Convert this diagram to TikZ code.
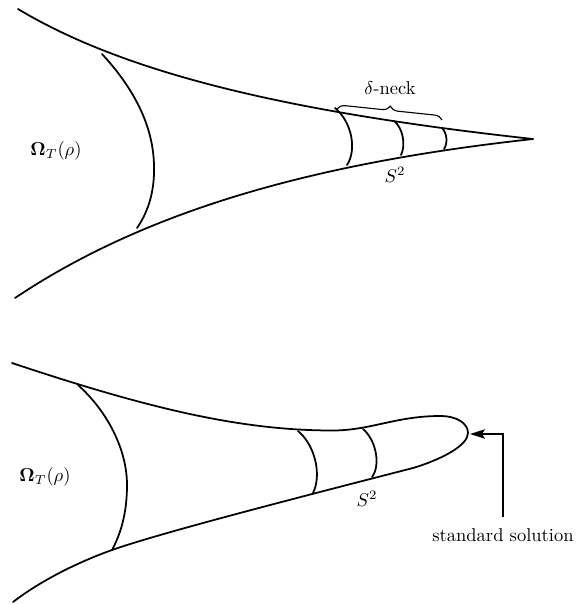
\documentclass[tikz,border=0pt]{standalone}
\usetikzlibrary{arrows.meta,decorations.pathreplacing}
\begin{document}
\begin{tikzpicture}[x=0.54pt,y=-0.54pt,
  curve/.style={line width=0.95pt,line join=round,line cap=round},
  lbl/.style={inner sep=0pt}]
\useasboundingbox (0,0) rectangle (575,604);
% ---------- top figure ----------
\draw[curve] (18,9) .. controls (128,75) and (295,113) .. (533,139);
\draw[curve] (15,298) .. controls (145,211) and (313,163) .. (533,139);
\draw[curve] (102,54) .. controls (128,82) and (153,120) .. (154,165)
  .. controls (155,195) and (146,215) .. (137,228);
\draw[curve] (335,108) .. controls (352,122) and (357,150) .. (347,165);
\draw[curve] (394,121) .. controls (403,128) and (406,145) .. (401,155);
\draw[curve] (442,128) .. controls (447,133) and (448,143) .. (444,149);
\draw[line width=0.6pt,decorate,decoration={brace,amplitude=4.5pt}] (337,109) -- (442,120);
\node[lbl] (dn) at (390,88) {$\delta$-neck};
\node[lbl] (s1) at (395,175) {$S^2$};
\node[lbl] (om1) at (56,151) {$\mathbf{\Omega}_T(\rho)$};
% ---------- bottom figure ----------
\draw[curve] (12,363) .. controls (150,409) and (240,430) .. (330,430.5)
  .. controls (370,431) and (395,416) .. (440,416)
  .. controls (458,416) and (468,424) .. (468,433)
  .. controls (468,445) and (443,459) .. (413,468)
  .. controls (300,497) and (160,533) .. (112,550)
  .. controls (70,565) and (35,585) .. (13,602);
\draw[curve] (78,385) .. controls (108,412) and (127,450) .. (127,485)
  .. controls (127,515) and (120,535) .. (112,550);
\draw[curve] (298,431) .. controls (315,445) and (322,475) .. (313,493);
\draw[curve] (363,429) .. controls (376,440) and (381,465) .. (372,477);
\node[lbl] (s2) at (367,499) {$S^2$};
\node[lbl] (om2) at (45,477) {$\mathbf{\Omega}_T(\rho)$};
\node[inner xsep=0pt,inner ysep=6pt] (ss) at (503,535) {standard solution};
\coordinate (tip) at (470,434);
\draw[line width=0.95pt,-{Stealth[length=8pt,width=5pt,inset=1.5pt]}] (ss.north) |- (tip);
\end{tikzpicture}
\end{document}
